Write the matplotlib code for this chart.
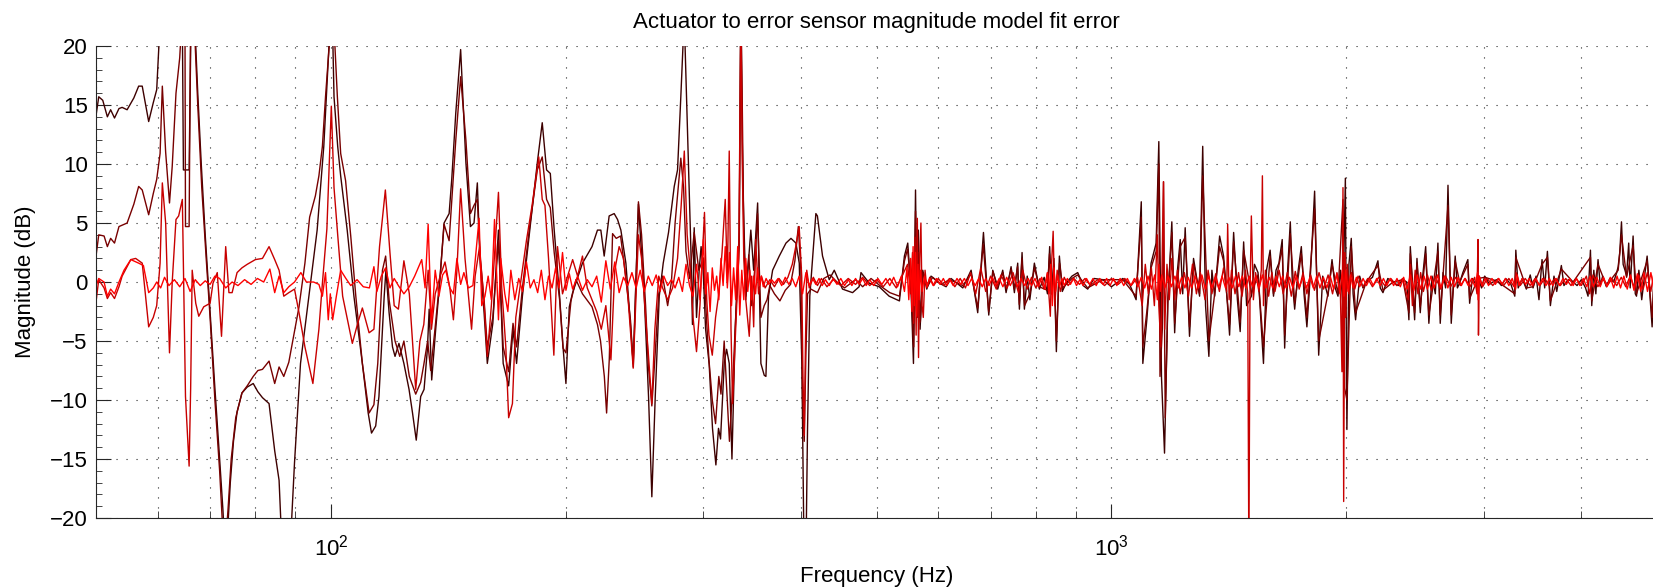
import matplotlib
matplotlib.use("Agg")
import matplotlib.pyplot as plt
import numpy as np
from matplotlib.ticker import LogLocator, MultipleLocator, NullFormatter

plt.rcParams["font.family"] = ["Liberation Sans", "DejaVu Sans"]
plt.rcParams["mathtext.fontset"] = "custom"
plt.rcParams["mathtext.rm"] = "Liberation Sans"
plt.rcParams["font.size"] = 16

# (frequency Hz, fit error dB), one list per model
dark = [
    (49.8, 13.3), (50.4, 15.7), (51.0, 15.4), (51.7, 14.0), (52.2, 14.6), (52.8, 13.9), (53.5, 14.7),
    (54.0, 14.8), (54.8, 14.6), (55.9, 15.6), (56.7, 16.6), (57.3, 16.6), (58.4, 13.6), (59.2, 15.2),
    (59.8, 16.3), (60.5, 23), (61.2, 26), (62.0, 24), (62.6, 26), (63.6, 25), (64.5, 22), (64.7, 9.5),
    (65.8, 9.5), (66.2, 23), (66.9, 22), (67.5, 16), (68.2, 10), (69.0, 4), (70.0, -2.5), (71.0, -9),
    (72.0, -15), (72.7, -19.3), (73.2, -23), (73.8, -20.5), (74.3, -17), (75.0, -13.5), (75.8, -11),
    (76.9, -9.4), (78.1, -8.9), (79.5, -8.6), (80.6, -9.3), (81.7, -9.8), (83.3, -10.3), (84.7, -14.3),
    (85.8, -16.8), (86.6, -23), (88.6, -23), (89.8, -15.3), (91.4, -6.9), (93.7, -1.2), (96.0, 4.4),
    (97.9, 11.5), (99.5, 20.5), (100.2, 25), (100.9, 15.7), (102.0, 11.5), (102.9, 9.0), (104.9, 4.4),
    (107.0, -1.2), (109.7, -6.9), (111.6, -11.1), (112.7, -12.8), (114.1, -12.2), (115.2, -9.7),
    (117.0, -1.2), (117.6, 1.0), (118.7, -2.6), (119.9, -5.5), (120.8, -6.3), (122.2, -5.2), (124.0, -6.9),
    (125.9, -9.1), (127.2, -11.1), (128.6, -13.4), (130.3, -9.7), (131.6, -9.1), (132.9, -5.7),
    (133.6, -2.3), (134.6, -8.3), (136.2, -4.0), (137.6, -0.6), (139.6, 5.0), (141.7, 5.8), (142.8, 8.7),
    (144.5, 14.3), (146.6, 19.7), (148.9, 10.1), (150.9, 4.7), (152.5, 5.0), (154.0, 8.4), (155.3, 1.6),
    (157.1, -2.6), (158.6, -6.9), (161.2, -3.5), (163.9, 4.4), (166.2, -6.9), (168.9, -8.8), (171.1, -4.0),
    (172.9, -6.9), (175.9, -1.2), (179.8, 4.4), (183.8, 10.1), (186.5, 13.5), (188.9, 9.5), (191.0, 9.2),
    (193.2, 4.4), (196.3, -1.2), (198.3, -5.5), (200.0, -8.6), (202.0, -2.1), (204.0, -0.9), (210.0, 1.6),
    (216.0, 3.0), (219.5, 4.4), (221.7, 4.4), (223.9, 2.2), (227.2, 5.6), (230.6, 5.8), (232.9, 5.3),
    (235.2, 4.4), (238.7, 1.6), (242.2, -4.0), (243.9, -6.9), (247.7, 6.6), (252.0, -1.2), (255.2, -9.7),
    (257.7, -18.2), (260.3, -9.7), (263.4, -1.2), (266.5, 1.6), (270.7, 4.2), (275.3, 8.1), (278.0, 9.5),
    (280.7, 15.7), (282.7, 20.5), (284.1, 20.5), (286.3, 12.9), (289.1, 3.0), (290.5, -3.6), (292.0, 4.6),
    (294.0, -3.0), (296.3, 1.0), (298.0, 3.0), (299.8, 1.0), (302.0, -4.0), (305.2, -7.0), (308.2, -12.4),
    (311.3, -15.5), (313.7, -12.4), (315.6, -13.3), (319.1, -6.8), (321.3, -5.7), (323.8, -6.9),
    (326.4, -15.0), (329.6, -4.0), (333.5, 4.4), (335.1, 24), (336.5, 12), (337.4, 7.3), (340.1, -1.2),
    (345.1, 4.4), (348.0, 1.0), (352.1, 6.7), (355.5, -6.9), (359.0, -7.9), (360.8, -8.0), (363.6, -1.2),
    (368.0, 1.0), (375.3, 2.2), (382.8, 3.3), (388.5, 3.7), (394.2, 3.3), (398.1, 1.6), (401.2, -7),
    (403.9, -24), (405.9, -24), (407.9, -12.6), (410.7, -1.2), (418.1, 5.8), (420.0, 5.6), (426.4, 2.2),
    (434.9, 0.2), (441.4, 1.0), (452.3, -0.6), (465.9, -0.9), (475.0, -0.4), (477.6, 0.8), (489.5, -0.1),
    (504, -0.4), (519, -1.2), (535, -1.6), (542.9, 2.2), (548.3, 3.3), (553.8, -0.9), (557.6, -6.9),
    (561.0, 7.8), (563.6, -2.6), (565.7, 4.4), (568.6, -4.0), (573.1, 1.0), (579.9, -0.6), (587.3, 0.5),
    (602, -0.1), (614, -0.4), (623, 0.3), (645, -0.5), (661, 1.0), (674, -2.6), (685.5, 4.2), (696.3, -2.8),
    (704.6, 1.0), (715, -0.6), (725.6, 1.0), (732.8, -0.9), (743.7, 1.3), (751, -0.9), (758.4, 1.6),
    (762.2, -2.3), (768.2, 2.5), (773.5, -2.3), (780, 0.5), (786, -1.5), (796.6, 1.6), (808.4, -0.6),
    (820, 0.4), (828, -1.0), (833.4, 3.0), (838, -1.0), (844, 2.0), (850, -5.9), (857.6, 2.2), (865, -0.8),
    (874.7, -0.1), (890, 0.5), (905.3, 0.8), (920, -0.3), (932.4, -0.6), (950, 0.3), (974.7, 0.2),
    (1000, -0.4), (1034, 0.3), (1055, -0.2), (1075.5, -1.5), (1086, 3.9), (1092, 6.8), (1097, -6.9),
    (1110, -3.2), (1124, 1.6), (1141, 3.3), (1150, 11.9), (1159, -8.0), (1169.5, -14.5), (1181, -1.8),
    (1195, 5.1), (1205, -4.3), (1215, 1.0), (1225, 3.6), (1234, -1.0), (1243, 4.6), (1259, -4.6),
    (1274, 2.0), (1297, -1.2), (1309, 11.5), (1320, -2.0), (1333, -6.3), (1345, 1.0), (1356, -1.2),
    (1376, 3.9), (1392, 2.2), (1405, -1.0), (1417, -4.5), (1434, 4.2), (1450, -1.5), (1462, -4.2),
    (1477, 3.4), (1490, -2.0), (1511, -1.2), (1525, 1.5), (1541, 0.8), (1566, -6.9), (1580, 1.0),
    (1597, 2.7), (1613, -1.2), (1625, 1.0), (1639, 1.6), (1655, 3.6), (1667, -5.6), (1680, 0.5),
    (1695, 5.1), (1705, 0.0), (1717, -2.3), (1735, 1.0), (1751, 3.0), (1765, -1.0), (1780, -3.8),
    (1800, 1.0), (1821, 7.7), (1843, -6.2), (1865, 0.5), (1894, -1.2), (1917, 1.9), (1935, -0.5),
    (1951, -1.2), (1965, 1.0), (1980, -2.0), (1994, 8.8), (2003, -12.5), (2015, 1.5), (2029, 3.7),
    (2040, -1.0), (2055, -3.2), (2080, 0.5), (2100, -0.5), (2121, 0.0), (2160, 0.4), (2195, 1.8),
    (2210, -0.5), (2228, -0.9), (2260, 0.3), (2295, 0.0), (2330, -0.3), (2363, 0.2), (2390, 0.0),
    (2405, -3.2), (2415, 3.0), (2446, -3.2), (2463, 2.0), (2487, -2.6), (2505, 0.5), (2527, 3.0),
    (2551, -3.5), (2575, 0.5), (2600, -1.0), (2620, 3.3), (2638, -3.5), (2660, 0.8), (2680, -0.5),
    (2699, 8.2), (2725, -3.5), (2757, 2.2), (2775, -0.5), (2793, -0.1), (2820, 0.8), (2862, 1.9),
    (2877, -1.8), (2900, 0.3), (2930, -0.2), (2949, 0.4), (2980, -0.5), (3008, 0.5), (3050, -0.2),
    (3114, 0.2), (3160, -0.3), (3200, 0.3), (3250, -0.2), (3287, -1.2), (3297, 2.7), (3320, -0.5),
    (3360, 0.3), (3401, -0.6), (3440, 0.6), (3469, -0.5), (3500, 0.5), (3530, -1.5), (3562, 1.9),
    (3590, -0.5), (3619, 2.6), (3651, -2.0), (3690, 0.5), (3720, -0.8), (3771, 1.4), (3800, -0.3),
    (3850, 0.2), (3904, 0.0), (3950, -0.3), (4000, 0.2), (4050, -0.5), (4080, -1.2), (4109, 2.7),
    (4125, -2.0), (4150, 1.0), (4175, -1.0), (4202, 1.9), (4230, -0.3), (4260, 0.5), (4307, -0.4),
    (4350, 0.3), (4400, 0.0), (4440, 0.8), (4459, 1.3), (4480, 2.5), (4503, 5.1), (4525, 1.5),
    (4550, 1.0), (4571, 0.5), (4600, 3.3), (4620, -0.5), (4660, 3.9), (4690, -1.0), (4707, -1.2),
    (4740, 1.0), (4780, -1.5), (4820, 0.5), (4857, 2.2), (4890, -0.5), (4929, -3.8), (4960, 1.0),
]

maroon = [
    (49.8, 1.3), (50.4, 4.0), (51.2, 3.9), (51.7, 3.0), (52.2, 3.7), (52.8, 3.3), (53.5, 4.7), (54.8, 5.0),
    (55.9, 6.6), (56.7, 8.1), (57.3, 7.8), (58.4, 5.7), (59.2, 7.5), (59.8, 8.7), (60.4, 10.9),
    (60.8, 16.6), (61.4, 11.0), (62.1, 6.7), (62.6, 9.8), (63.3, 16.0), (64.0, 19.0), (64.5, 23),
    (65.0, 22), (65.1, 4.7), (65.8, 4.7), (66.1, 23), (66.8, 22), (67.5, 15), (68.3, 8), (69.2, 2),
    (70.0, -3), (71.0, -10), (72.0, -16), (72.8, -22), (73.3, -22), (73.8, -19.3), (74.5, -15),
    (75.5, -11.5), (76.9, -9.4), (78.1, -8.8), (79.5, -8.0), (80.6, -7.5), (81.7, -7.4), (83.3, -6.7),
    (84.7, -8.6), (85.8, -7.2), (87.0, -8.0), (88.3, -6.8), (89.2, -5.2), (91.0, -2.1), (92.6, 1.6),
    (93.9, 5.5), (95.5, 7.3), (96.5, 9.0), (97.5, 11.5), (98.4, 15.7), (99.6, 20.5), (100.3, 23),
    (101.0, 21), (101.9, 15.7), (102.9, 10.9), (104.4, 8.6), (106.0, 3.9), (107.6, -1.2), (109.7, -6.9),
    (111.9, -11.1), (113.5, -10.4), (114.8, -6.9), (116.4, 1.0), (117.5, 2.2), (118.7, -1.5),
    (120.8, -5.0), (122.5, -6.3), (124.0, -5.0), (126.0, -8.0), (128.4, -9.5), (130.3, -8.5),
    (131.5, -7.0), (133.0, -5.0), (134.2, -7.5), (136.0, -3.8), (138.0, 0.5), (139.6, 4.9), (141.7, 3.5),
    (143.0, 7.5), (144.5, 12.0), (146.6, 17.4), (148.9, 12.0), (150.9, 5.8), (152.5, 6.5), (154.0, 7.0),
    (155.3, 2.0), (157.1, -1.5), (158.6, -5.5), (161.2, -3.0), (163.9, 3.5), (166.2, -5.5), (168.9, -7.6),
    (171.1, -3.5), (172.9, -5.5), (175.9, -0.5), (179.8, 4.8), (183.8, 9.5), (186.5, 10.6), (188.9, 7.0),
    (191.0, 6.3), (193.2, 2.5), (196.3, -1.5), (198.3, -5.6), (200.0, -6.0), (203.0, -1.6), (206.0, 0.2),
    (210.0, -1.0), (216.0, -2.1), (219.5, -3.6), (221.5, -5.0), (224.0, -8.0), (225.5, -11.1),
    (227.3, -6.5), (229.5, 4.1), (232.0, 3.7), (235.0, 3.9), (238.0, 1.0), (242.0, -3.3), (244.0, -7.2),
    (247.7, 6.8), (250.0, 4.0), (253.0, -2.0), (255.0, -7.0), (257.7, -10.5), (260.3, -6.0), (263.0, -1.0),
    (266.0, 0.5), (270.0, -2.0), (273.0, 0.0), (276.0, 5.0), (280.7, 10.5), (283.0, 8.0), (285.0, 2.6),
    (288.0, 0.3), (292.0, 4.2), (296.0, 1.0), (300.0, 2.0), (303.0, -3.5), (305.0, -6.6), (308.0, -10.0),
    (311.0, -12.0), (314.0, -8.0), (316.0, -9.5), (319.0, -5.0), (321.3, -9.0), (324.0, -13.5),
    (326.4, -10.0), (330.0, -3.0), (333.5, 3.0), (335.1, 24), (336.5, 15), (338.0, 4.0), (340.0, -1.5),
    (343.0, 2.3), (346.0, -2.0), (349.0, 1.0), (352.0, 5.8), (355.5, -3.0), (359.0, -2.0), (362.0, -1.5),
    (365.0, -0.3), (370.0, -1.0), (376.0, -1.6), (382.0, -0.7), (388.0, -0.2), (393.0, 1.8), (397.0, 4.7),
    (400.0, 1.0), (402.0, -10.0), (404.0, -13.5), (406.0, -6.0), (408.0, -1.0), (412.0, -0.6),
    (420.0, -0.9), (428.0, 0.3), (436.0, 0.6), (445.0, 0.0), (455.0, -0.5), (470.0, 0.2), (480, -0.4),
    (492, 0.3), (505, -0.3), (520, -0.9), (535, -1.2), (543, 1.8), (548, 2.8), (554, -0.6), (558, -5.5),
    (561, 6.0), (564, -3.0), (566, 2.5), (569, -3.4), (574, 0.8), (581, -0.4), (590, 0.4), (605, -0.2),
    (620, 0.2), (645, -0.3), (661, 0.7), (674, -2.2), (685, 3.2), (696, -2.5), (705, 0.9), (715, -0.4),
    (726, 0.8), (733, -0.6), (744, 1.1), (751, -0.6), (758, 1.3), (762, -1.9), (768, 2.0), (774, -2.0),
    (786, -1.0), (797, 1.2), (808, -0.4), (828, -0.7), (833, 2.4), (838, -1.0), (844, 1.5), (850, -5.0),
    (858, 1.6), (866, -0.5), (890, 0.3), (905, 0.6), (932, -0.5), (975, 0.2), (1034, 0.2), (1075, -1.2),
    (1086, 3.0), (1092, 5.5), (1097, -5.5), (1110, -2.5), (1124, 1.2), (1141, 2.6), (1150, 10.0),
    (1154, -8.0), (1162, -4.0), (1166, 8.5), (1172, -11.5), (1181, -1.4), (1195, 4.2), (1205, -3.5),
    (1225, 3.0), (1243, 3.8), (1259, -3.8), (1274, 1.6), (1297, -1.0), (1309, 9.0), (1333, -5.0),
    (1356, -1.0), (1376, 3.0), (1392, 1.8), (1417, -3.6), (1434, 3.4), (1462, -3.4), (1477, 2.7),
    (1511, -1.0), (1541, 0.6), (1566, -5.5), (1597, 2.2), (1613, -1.0), (1655, 2.9), (1667, -4.5),
    (1695, 4.1), (1717, -1.8), (1751, 2.4), (1780, -3.0), (1821, 6.2), (1843, -5.0), (1894, -1.0),
    (1917, 1.5), (1951, -1.0), (1980, 7.0), (1990, -9.0), (2003, -10.0), (2029, 3.0), (2055, -2.6),
    (2121, 0.0), (2195, 1.4), (2228, -0.7), (2295, 0.0), (2363, 0.2), (2405, -2.6), (2415, 2.4),
    (2446, -2.6), (2463, 1.6), (2487, -2.1), (2527, 2.4), (2551, -2.8), (2620, 2.6), (2638, -2.8),
    (2699, 6.5), (2725, -2.8), (2757, 1.8), (2793, 0.0), (2862, 1.5), (2877, -1.4), (2949, 0.3),
    (3008, 0.4), (3114, 0.1), (3287, -1.0), (3297, 2.1), (3401, -0.5), (3469, -0.4), (3562, 1.5),
    (3619, 2.1), (3651, -1.6), (3771, 1.1), (3904, 0.0), (4109, 2.1), (4125, -1.6), (4202, 1.5),
    (4307, -0.3), (4459, 1.0), (4503, 4.0), (4571, 0.4), (4660, 3.1), (4707, -1.0), (4857, 1.8),
    (4929, -3.0), (4960, 0.8),
]

red = [
    (49.8, -2.6), (50.4, 0.2), (51.2, -0.5), (51.7, -1.4), (52.2, -0.9), (52.8, -1.4), (53.5, -0.4),
    (54.0, 0.5), (55.4, 1.9), (56.2, 2.0), (57.3, 1.6), (58.4, -3.8), (59.2, -3.0), (59.8, -2.0),
    (60.4, 1.6), (60.8, 8.4), (61.4, 5.0), (62.1, -6.0), (62.6, 0.0), (63.3, 5.3), (63.8, 5.6), (64.5, 7.0),
    (65.1, -9.7), (65.8, -15.6), (66.1, -9.0), (66.4, 1.0), (67.1, -1.8), (67.7, -2.9), (68.7, -2.1),
    (70.0, -1.8), (70.6, -0.1), (71.5, 0.8), (72.4, -4.6), (73.3, 3.0), (74.0, -0.9), (74.7, -0.9),
    (75.8, 0.8), (76.9, 1.2), (78.1, 1.5), (80.0, 1.9), (81.7, 2.0), (83.3, 3.0), (84.7, 1.9), (85.8, 1.0),
    (87.0, -1.2), (88.3, -0.9), (89.8, -0.6), (91.0, -2.6), (92.6, -5.5), (94.8, -8.6), (96.5, -4.0),
    (97.5, -0.1), (98.8, 4.5), (99.6, 11.0), (100.1, 14.9), (100.9, 8.0), (102.0, 4.0), (103.5, -1.2),
    (106.5, -5.2), (108.3, -3.4), (109.7, -2.2), (111.9, -4.3), (113.5, -4.0), (115.4, 3.0), (117.4, 7.8),
    (119.0, 2.5), (120.5, -2.0), (122.0, -2.3), (124.0, 1.8), (126.0, -1.0), (128.4, -9.1), (130.0, -5.0),
    (131.5, -3.6), (133.2, 1.0), (134.5, -4.0), (136.0, -1.0), (138.0, 0.5), (140.0, 1.7), (142.0, -0.5),
    (143.5, -3.2), (145.0, 1.0), (146.6, 7.9), (148.5, 2.0), (151.4, -4.0), (153.0, 0.5), (155.0, 3.0),
    (157.0, -1.5), (158.6, -6.3), (160.5, -2.0), (163.9, 7.6), (165.5, -0.5), (167.5, -5.5),
    (168.9, -11.5), (170.8, -10.3), (172.5, -3.0), (175.0, 0.0), (178.0, 3.5), (181.0, 6.5), (184.6, 10.6),
    (186.5, 7.0), (188.0, 6.5), (190.0, 2.0), (193.0, -6.2), (195.1, 3.0), (198.0, -1.0), (201.0, 0.5),
    (204, 1.9), (207, 0.5), (210, 2.2), (213, -0.5), (216, -1.5), (219, -2.5), (222, -4.0), (225, -2.0),
    (228.4, -6.6), (231, 1.0), (234, 3.0), (237, 2.0), (240, -1.0), (243.9, -7.3), (247.7, 4.0), (250, 2.0),
    (253, -3.0), (255, -6.0), (257.7, -10.3), (260, -4.0), (263, 0.5), (266, -0.5), (270, -1.5), (274, -0.5),
    (278, 2.0), (281, 6.5), (283.6, 11.1), (286, 4.0), (289, 0.5), (291, -3.0), (294, -5.9), (297, -2.0),
    (299, 2.0), (301, 5.9), (303, -1.5), (305, -4.5), (308, -6.2), (311, -3.0), (314, -1.0), (317, 2.5),
    (320, 7.0), (322, 0.0), (323.8, 11.1), (325.5, -4.0), (327, -10.3), (330, -4.0), (333, 2.0),
    (335.1, 23), (336.5, 10.0), (338, 2.0), (340, -1.5), (343.5, -4.6), (346, 0.5), (348, -3.8), (350, 3.6),
    (353, -1.0), (356, 0.5), (360, -0.5), (365, 0.2), (370, -0.4), (375, 0.3), (380, -0.2), (385, 0.4),
    (390, 1.5), (394, 3.0), (398, 4.7), (401, 0.5), (402.5, -8), (404, -13.0), (405.5, -5), (407, 1.0),
    (410, -0.5), (415, 0.4), (420, -0.3), (425, 0.3), (432, -0.4), (440, 0.2), (450, -0.3), (460, 0.3),
    (470, -0.2), (480, 0.4), (490, -0.3), (500, 0.2), (510, -0.4), (520, 0.3), (530, -0.5), (540, 0.6),
    (548, 1.5), (553, -1.0), (556, 2.5), (558, -3.5), (560, 3.8), (562, -4.5), (564, 5.4), (566, -6.4),
    (568, 2.0), (570, 5.0), (572, -2.0), (574, -3.0), (577, 1.0), (580, -0.5), (585, 0.4), (592, -0.3),
    (600, 0.3), (610, -0.3), (620, 0.3), (630, -0.4), (640, 0.3), (650, -0.5), (660, 0.8), (670, -1.0),
    (680, 1.2), (690, -0.8), (700, 0.5), (712, -0.6), (722, 0.6), (735, -0.5), (748, 0.8), (760, -0.9),
    (770, 1.0), (780, -0.6), (790, 0.4), (800, -0.5), (810, 0.3), (820, -0.6), (828, 0.8), (835, -2.9),
    (838, 1.5), (842, 4.3), (846, -2.0), (852, 1.0), (860, -0.8), (870, 0.4), (880, -0.3), (895, 0.3),
    (910, -0.2), (925, 0.3), (940, -0.3), (960, 0.2), (980, -0.3), (1000, 0.3), (1020, -0.2), (1040, 0.3),
    (1060, -0.3), (1080, 0.4), (1095, -2.0), (1105, 1.5), (1115, -1.0), (1125, 1.2), (1135, -2.0),
    (1145, 4.0), (1150, -2.0), (1157, -5.5), (1162, 3.0), (1166, 8.5), (1170, -4.0), (1178, 1.5),
    (1186, -1.5), (1195, 2.0), (1205, -1.5), (1215, 1.0), (1225, -1.0), (1240, 0.8), (1255, -1.2),
    (1270, 1.5), (1285, -1.0), (1300, 0.8), (1318, -1.5), (1330, 1.0), (1345, -1.0), (1360, 0.7),
    (1375, -0.8), (1392, 1.2), (1405, -0.8), (1409, 4.9), (1415, -1.5), (1425, 1.0), (1440, -1.0),
    (1455, 0.8), (1470, -1.2), (1485, 1.0), (1495, -1.0), (1500, -24), (1505, -1.0), (1511, 5.6),
    (1520, -1.5), (1530, 0.8), (1545, -0.8), (1556, 1.0), (1561, 9.0), (1566, -2.0), (1575, 1.0),
    (1590, -1.2), (1605, 0.8), (1620, -0.8), (1640, 1.0), (1660, -1.0), (1680, 0.8), (1700, -1.2),
    (1720, 0.9), (1740, -0.6), (1760, 0.8), (1780, -1.0), (1800, 0.6), (1820, -0.7), (1845, 0.8),
    (1870, -0.6), (1895, 0.6), (1920, -1.0), (1945, 0.8), (1965, -1.0), (1974, -7.6), (1980, 8.0),
    (1984, -18.6), (1990, 2.5), (1996, -3.0), (2005, 1.5), (2015, -1.0), (2030, 0.8), (2050, -0.6),
    (2070, 0.5), (2100, -0.4), (2130, 0.3), (2160, -0.4), (2200, 0.4), (2240, -0.3), (2280, 0.3),
    (2320, -0.3), (2360, 0.3), (2400, -1.5), (2415, 1.5), (2430, -2.0), (2450, 1.0), (2470, -1.0),
    (2490, 0.8), (2510, -0.8), (2540, 0.6), (2570, -0.7), (2600, 0.5), (2640, -0.6), (2680, 0.5),
    (2720, -0.4), (2760, 0.4), (2800, -0.3), (2840, 0.3), (2880, -0.4), (2920, 0.4), (2940, -1.0),
    (2949, 3.6), (2953, -4.5), (2960, 0.5), (2990, -0.4), (3030, 0.3), (3080, -0.3), (3130, 0.3),
    (3180, -0.3), (3230, 0.3), (3280, -0.4), (3300, 0.8), (3340, -0.3), (3390, 0.3), (3440, -0.3),
    (3490, 0.3), (3540, -0.3), (3590, 0.3), (3640, -0.3), (3700, 0.3), (3760, -0.3), (3820, 0.3),
    (3880, -0.3), (3940, 0.3), (4000, -0.3), (4060, 0.5), (4100, -1.0), (4140, 0.6), (4200, -0.4),
    (4260, 0.3), (4320, -0.3), (4380, 0.3), (4440, -0.3), (4500, 0.4), (4560, -0.4), (4620, 0.5),
    (4680, -0.5), (4740, 0.6), (4800, -0.6), (4860, 0.8), (4910, -0.8), (4960, 0.9),
]

bright = [
    (49.8, -0.6), (50.4, 0.3), (51.2, 0.0), (51.7, -1.2), (52.2, -0.6), (52.8, -1.0), (53.5, 0.0),
    (54.3, 1.0), (55.4, 1.9), (56.7, 1.6), (57.5, 1.4), (58.4, -0.9), (59.2, -0.5), (59.8, 0.0),
    (60.5, -0.5), (61.2, 0.4), (62.0, -0.3), (63.0, 0.2), (64.0, -0.4), (65.0, 0.3), (66.0, -0.8),
    (67.0, 0.2), (68.0, -0.3), (69.0, 0.1), (70.0, -0.2), (71.0, 0.5), (72.0, 0.3), (73.3, -0.5),
    (74.7, 0.0), (76.0, -0.3), (77.5, 0.2), (79.0, -0.2), (80.5, 0.3), (82.0, 0.0), (83.5, 1.1),
    (84.7, -0.9), (85.8, 0.5), (87.0, -0.9), (88.3, -0.4), (89.8, 0.0), (91.5, 0.8), (93.0, 0.0),
    (95.0, 0.0), (96.5, -0.2), (97.5, -1.2), (98.4, 0.8), (99.2, -3.2), (99.8, -1.0), (100.5, -3.2),
    (101.6, -1.2), (102.9, 1.0), (104.5, 0.3), (106, -0.3), (108, 0.2), (110, -0.4), (112, -0.5),
    (113.5, 1.3), (114.5, -0.8), (116, 0.5), (117.5, 1.2), (119, -0.5), (120.5, 0.3), (122, -0.3),
    (124, -1.0), (126, -0.4), (128, 0.5), (130.7, 1.9), (132, -0.5), (133.2, 4.9), (134.5, -3.5),
    (136, 1.0), (137.5, -1.2), (139, 0.6), (140.3, 1.0), (142, -0.5), (143.5, -1.0), (145, 2.0),
    (146.6, -0.2), (148, 0.8), (150, -0.5), (152, -0.3), (154.8, 5.4), (156, -2.0), (157.5, -1.2),
    (159, 0.5), (160.5, -1.5), (162, 5.3), (163.9, -3.2), (165, 2.0), (167, -1.0), (168.5, -2.5),
    (170, 1.0), (172, -1.5), (174, 0.3), (176, -0.8), (178, 1.7), (180, -0.5), (182, 0.2), (184, -0.9),
    (186, 1.0), (188, -1.5), (190, 0.5), (192, -0.5), (194, 1.2), (196, -0.5), (198, 2.5), (200, -0.7),
    (202, 0.7), (204, -0.6), (207, 0.5), (210, -0.7), (213, 0.2), (216, -0.4), (219, 0.5), (222, -1.7),
    (225, 1.8), (228, -0.6), (231, 1.7), (234, -0.9), (237, 0.4), (240, -0.3), (243, 0.8), (246, -0.5),
    (249, 1.0), (252, -0.8), (255, 0.5), (258, -0.3), (261, 0.6), (264, -0.8), (267, 0.5), (270, -0.3),
    (273, 0.2), (276, -0.5), (279, 0.4), (282, -0.8), (285, 1.5), (288, -0.3), (291, -1.2), (294, 1.5),
    (297, -1.5), (300, 3.6), (302, -1.0), (304, 0.8), (306, -2.5), (308, 1.2), (310, -0.7), (312, 0.5),
    (314, -1.5), (316, 2.0), (318, -0.3), (320, 3.0), (322, -0.5), (324, 2.5), (326, -2.0), (328, 1.2),
    (330, -1.5), (332, 3.0), (334, -2.8), (336, 1.0), (338, -1.5), (340, 2.0), (342, -0.8), (344, 1.0),
    (346, -1.5), (348, 0.5), (350, -1.0), (352, 1.2), (354, -0.3), (356, 0.5), (358, -0.4), (361, 0.3),
    (364, -0.2), (367, 0.2), (370, -0.1), (374, 0.3), (378, -0.3), (382, 0.4), (386, -0.2), (390, 0.3),
    (394, -0.4), (398, 0.5), (402, -1.0), (406, 0.8), (410, -0.3), (414, 0.3), (418, -0.2), (422, 0.3),
    (426, -0.3), (430, 0.2), (435, -0.3), (440, 0.3), (445, -0.2), (450, 0.3), (455, -0.3), (460, 0.2),
    (465, -0.3), (470, 0.3), (475, -0.2), (480, 0.3), (485, -0.3), (490, 0.2), (496, -0.3), (502, 0.3),
    (508, -0.2), (514, 0.3), (520, -0.3), (526, 0.4), (532, -0.4), (538, 0.5), (543, -0.8), (547, 1.2),
    (550, -1.5), (553, 2.0), (555, -2.5), (557, 3.0), (559, -2.0), (561, 2.5), (563, -2.9), (565, 1.5),
    (567, -1.5), (569, 1.0), (572, -0.8), (576, 0.5), (580, -0.4), (585, 0.3), (591, -0.3), (597, 0.3),
    (603, -0.2), (609, 0.3), (615, -0.3), (621, 0.2), (627, -0.3), (634, 0.3), (641, -0.2), (648, 0.3),
    (655, -0.3), (662, 0.3), (669, -0.3), (676, 0.3), (683, -0.4), (690, 0.3), (697, -0.3), (704, 0.4),
    (711, -0.3), (718, 0.3), (726, -0.4), (734, 0.4), (742, -0.3), (750, 0.4), (758, -0.4), (766, 0.3),
    (774, -0.3), (782, 0.3), (790, -0.3), (798, 0.3), (806, -0.4), (814, 0.4), (822, -0.6), (828, 0.8),
    (832, -1.0), (836, 1.5), (840, -2.0), (844, 1.2), (848, -0.8), (853, 0.6), (858, -0.4), (864, 0.3),
    (870, -0.3), (878, 0.3), (886, -0.2), (894, 0.3), (902, -0.3), (911, 0.2), (920, -0.3), (929, 0.3),
    (938, -0.2), (947, 0.3), (956, -0.3), (966, 0.3), (976, -0.2), (986, 0.3), (996, -0.3), (1006, 0.3),
    (1016, -0.3), (1026, 0.3), (1037, -0.3), (1048, 0.3), (1059, -0.3), (1070, 0.3), (1081, -0.4),
    (1092, 0.4), (1103, -0.5), (1114, 0.5), (1125, -0.6), (1136, 0.6), (1145, -1.5), (1150, 1.5),
    (1155, -0.8), (1160, 0.6), (1171, -0.5), (1182, 0.5), (1194, -0.4), (1206, 0.5), (1218, -0.5),
    (1230, 0.4), (1242, -0.5), (1254, 0.4), (1267, -0.5), (1280, 0.5), (1293, -0.5), (1306, 0.6),
    (1319, -0.6), (1332, 0.5), (1345, -0.5), (1358, 0.4), (1372, -0.5), (1386, 0.5), (1400, -0.5),
    (1414, 0.4), (1428, -0.5), (1442, 0.5), (1456, -0.4), (1471, 0.5), (1486, -0.5), (1501, 0.5),
    (1516, -0.4), (1531, 0.5), (1546, -0.5), (1561, 0.6), (1577, -0.5), (1593, 0.4), (1609, -0.5),
    (1625, 0.5), (1641, -0.4), (1657, 0.5), (1674, -0.5), (1691, 0.4), (1708, -0.5), (1725, 0.5),
    (1742, -0.4), (1760, 0.4), (1778, -0.5), (1796, 0.4), (1814, -0.5), (1832, 0.5), (1850, -0.5),
    (1869, 0.4), (1888, -0.5), (1907, 0.5), (1926, -0.6), (1945, 0.7), (1962, -1.0), (1976, 1.0),
    (1986, -1.2), (1996, 1.0), (2010, -0.8), (2024, 0.6), (2040, -0.5), (2060, 0.4), (2080, -0.4),
    (2101, 0.3), (2122, -0.3), (2143, 0.3), (2165, -0.3), (2187, 0.3), (2209, -0.3), (2231, 0.3),
    (2253, -0.3), (2276, 0.3), (2299, -0.3), (2322, 0.3), (2345, -0.4), (2368, 0.4), (2392, -0.6),
    (2416, 0.6), (2440, -0.7), (2465, 0.6), (2490, -0.6), (2515, 0.5), (2540, -0.6), (2566, 0.5),
    (2592, -0.5), (2618, 0.6), (2644, -0.5), (2671, 0.5), (2698, -0.5), (2725, 0.4), (2752, -0.4),
    (2780, 0.4), (2808, -0.3), (2836, 0.3), (2865, -0.3), (2894, 0.3), (2923, -0.4), (2945, 0.8),
    (2950, -1.5), (2960, 0.5), (2982, -0.3), (3012, 0.3), (3042, -0.3), (3073, 0.3), (3104, -0.2),
    (3135, 0.3), (3166, -0.2), (3198, 0.3), (3230, -0.3), (3262, 0.3), (3295, -0.6), (3310, 0.6),
    (3328, -0.3), (3361, 0.3), (3395, -0.2), (3429, 0.3), (3463, -0.3), (3498, 0.3), (3533, -0.3),
    (3568, 0.3), (3604, -0.3), (3640, 0.3), (3677, -0.3), (3714, 0.3), (3751, -0.3), (3789, 0.3),
    (3827, -0.2), (3865, 0.3), (3904, -0.3), (3943, 0.3), (3983, -0.3), (4023, 0.3), (4063, -0.4),
    (4104, 0.5), (4145, -0.4), (4187, 0.4), (4229, -0.4), (4271, 0.4), (4314, -0.4), (4357, 0.4),
    (4401, -0.5), (4445, 0.5), (4490, -0.5), (4535, 0.5), (4580, -0.6), (4626, 0.6), (4672, -0.7),
    (4719, 0.7), (4766, -0.8), (4814, 0.8), (4862, -0.8), (4911, 0.8), (4960, -0.8), (5010, 0.8),
]

series = [(dark, "#3d0000"), (maroon, "#780000"), (red, "#c80000"), (bright, "#ff0000")]

fig = plt.figure(figsize=(16.53, 5.87), dpi=100)
ax = fig.add_axes([0.0581, 0.1175, 0.9443, 0.8041])

for data, color in series:
    f, db = np.array(data).T
    ax.plot(f, db, color=color, lw=1.0)

ax.set_xscale("log")
ax.set_xlim(50, 5000)
ax.set_ylim(-20, 20)
ax.xaxis.set_major_locator(LogLocator(base=10))
ax.xaxis.set_minor_locator(LogLocator(base=10, subs=np.arange(2, 10)))
ax.xaxis.set_minor_formatter(NullFormatter())
ax.yaxis.set_major_locator(MultipleLocator(5))
ax.yaxis.set_minor_locator(MultipleLocator(1))

dots = (0, (1, 8))
ax.grid(True, which="major", axis="both", linestyle=dots, color="0.15", lw=0.8)
ax.grid(True, which="minor", axis="x", linestyle=dots, color="0.15", lw=0.8)

for side in ("top", "right"):
    ax.spines[side].set_visible(False)
for side in ("left", "bottom"):
    ax.spines[side].set_linewidth(0.8)
    ax.spines[side].set_color("0.15")

ax.tick_params(which="both", direction="in", top=False, right=False, color="0.15")
ax.tick_params(axis="y", which="major", length=11, width=0.8, pad=6)
ax.tick_params(axis="y", which="minor", length=4, width=0.6)
ax.tick_params(axis="x", which="major", length=10, width=0.8, pad=12)
ax.tick_params(axis="x", which="minor", length=5, width=0.6)

ax.set_title("Actuator to error sensor magnitude model fit error", fontsize=16, pad=13)
ax.set_xlabel("Frequency (Hz)", fontsize=16, labelpad=4)
ax.set_ylabel("Magnitude (dB)", fontsize=16, labelpad=10)

fig.savefig("out.png", dpi=100)
